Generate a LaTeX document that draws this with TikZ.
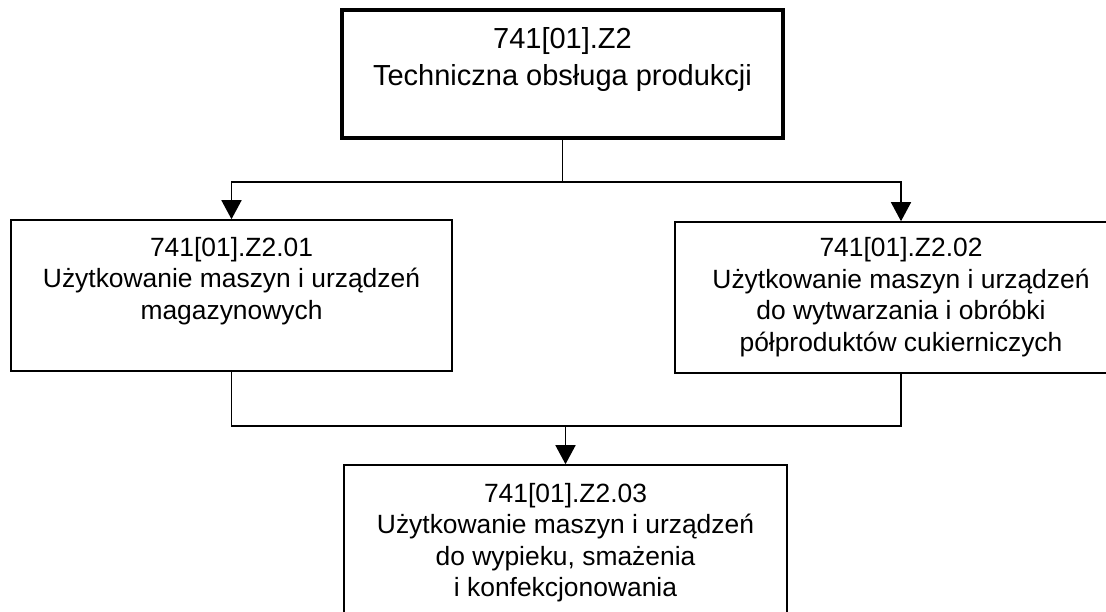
\documentclass[tikz,border=0pt]{standalone}
\usepackage{fontspec}
\setmainfont{Liberation Sans}
\usetikzlibrary{arrows.meta}

\newcommand{\ramka}[4]{\parbox[c][#2][t]{#1}{\centering\vspace*{#3}#4}}

\begin{document}
\begin{tikzpicture}[x=1pt, y=-1pt,
	blok/.style={draw, inner sep=0pt, line width=1.6pt, font=\fontsize{26.4}{31.5}\selectfont},
	glowny/.style={blok, line width=4pt, font=\fontsize{29}{37}\selectfont},
	linia/.style={line width=1.6pt},
	strzalka/.style={linia, -{Triangle[length=19pt, width=20pt]}}]
	\path[use as bounding box] (0,0) rectangle (1106,612);
	\clip (0,0) rectangle (1106,612);

	\node[glowny] (z2) at (562.5,74) {\ramka{441pt}{128pt}{17pt}{741[01].Z2\\Techniczna obsługa produkcji}};
	\node[blok] (z201) at (231.5,295.5) {\ramka{441pt}{151pt}{17pt}{741[01].Z2.01\\Użytkowanie maszyn i urządzeń\\magazynowych}};
	\node[blok] (z202) at (901,297.5) {\ramka{452pt}{151pt}{15.5pt}{741[01].Z2.02\\Użytkowanie maszyn i urządzeń\\do wytwarzania i obróbki\\półproduktów cukierniczych}};
	\node[blok] (z203) at (565.5,542.5) {\ramka{443pt}{155pt}{18pt}{741[01].Z2.03\\Użytkowanie maszyn i urządzeń\\do wypieku, smażenia\\i konfekcjonowania}};

	\coordinate (gora) at (z2.south |- 0,182);
	\coordinate (dol) at (z203.north |- 0,426);

	\draw[linia] (z2.south) -- (gora);
	\draw[strzalka] (gora) -| (z201.north);
	\draw[strzalka] (gora) -| (z202.north);
	\draw[linia] (z201.south) |- (dol);
	\draw[linia] (z202.south) |- (dol);
	\draw[strzalka] (dol) -- (z203.north);
\end{tikzpicture}
\end{document}
